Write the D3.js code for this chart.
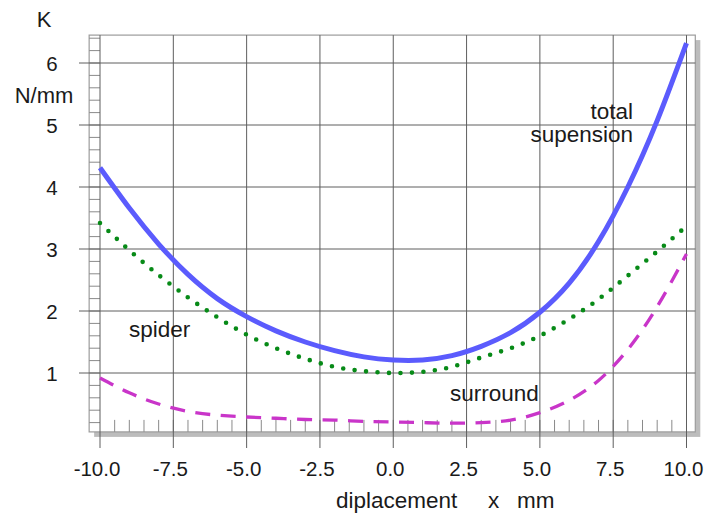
<!DOCTYPE html>
<html>
<head>
<meta charset="utf-8">
<script src="https://cdn.jsdelivr.net/npm/d3@7"></script>
<style>
body{margin:0;background:#fff;}
text{font-family:"Liberation Sans",Arial,sans-serif;fill:#1a1a1a;}
</style>
</head>
<body>
<svg id="c" width="711" height="515"></svg>
<script>
const xValues   = [-10,-9,-8,-7,-6,-5,-4,-3,-2,-1,0,1,2,3,4,5,6,7,8,9,10];
const totalK    = [4.31,3.66,3.08,2.59,2.20,1.91,1.68,1.50,1.36,1.26,1.21,1.21,1.28,1.43,1.65,1.98,2.45,3.12,4.00,5.07,6.32];
const spiderK   = [3.42,2.98,2.58,2.22,1.90,1.62,1.40,1.23,1.10,1.03,1.00,1.02,1.10,1.25,1.40,1.60,1.87,2.19,2.57,2.96,3.37];
const surroundK = [0.92,0.68,0.50,0.38,0.32,0.29,0.27,0.25,0.24,0.22,0.21,0.20,0.19,0.20,0.24,0.36,0.56,0.88,1.38,2.07,2.92];
const xTicks = [-10,-7.5,-5,-2.5,0,2.5,5,7.5,10];
const xTickLabels = ["-10.0","-7.5","-5.0","-2.5","0.0","2.5","5.0","7.5","10.0"];
const yTicks = [1,2,3,4,5,6];
const yTickLabels = ["1","2","3","4","5","6"];

const svg = d3.select("#c");
const x = d3.scaleLinear().domain([-10,10]).range([100,686.5]);
const y = d3.scaleLinear().domain([0,6]).range([435,63]);

const fL = x(-10.37), fR = x(10.3), fT = y(6.45), fB = y(0.05);

// frame shadow + frame
svg.append("rect").attr("x",fL+5).attr("y",fT+5).attr("width",fR-fL).attr("height",fB-fT).attr("fill","#bcbcbc");
svg.append("rect").attr("x",fL).attr("y",fT).attr("width",fR-fL).attr("height",fB-fT)
  .attr("fill","#fff").attr("stroke","#9c9c9c").attr("stroke-width",1.2);

// minor ticks left ladder (0.2 steps)
const yMinor = d3.range(0.2,6.41,0.2);
svg.append("g").selectAll("line").data(yMinor).join("line")
  .attr("x1",fL).attr("x2",x(-10)).attr("y1",d=>y(d)).attr("y2",d=>y(d))
  .attr("stroke","#8a8a8a").attr("stroke-width",1);
// minor ticks bottom (0.5 steps)
const xMinor = d3.range(-9.5,10,0.5);
svg.append("g").selectAll("line").data(xMinor).join("line")
  .attr("x1",d=>x(d)).attr("x2",d=>x(d)).attr("y1",fB).attr("y2",fB-12)
  .attr("stroke","#8a8a8a").attr("stroke-width",1);

// grid lines
svg.append("g").selectAll("line").data(xTicks).join("line")
  .attr("x1",d=>x(d)).attr("x2",d=>x(d)).attr("y1",fT).attr("y2",448)
  .attr("stroke","#5e5e5e").attr("stroke-width",1);
svg.append("g").selectAll("line").data(yTicks).join("line")
  .attr("x1",79).attr("x2",fR).attr("y1",d=>y(d)).attr("y2",d=>y(d))
  .attr("stroke","#5e5e5e").attr("stroke-width",1);

// tick labels
svg.append("g").selectAll("text").data(xTicks).join("text")
  .attr("x",d=>x(d)-3).attr("y",476).attr("text-anchor","middle")
  .attr("font-size","20.5px").text((d,i)=>xTickLabels[i]);
svg.append("g").selectAll("text").data(yTicks).join("text")
  .attr("x",52).attr("y",d=>y(d)+7.5).attr("text-anchor","middle")
  .attr("font-size","20.5px").text((d,i)=>yTickLabels[i]);

// axis labels
svg.append("text").attr("x",44).attr("y",27).attr("text-anchor","middle").attr("font-size","22px").text("K");
svg.append("text").attr("x",44).attr("y",103).attr("text-anchor","middle").attr("font-size","22px").text("N/mm");
svg.append("text").attr("x",336).attr("y",508).attr("font-size","22.5px").text("diplacement");
svg.append("text").attr("x",488).attr("y",508).attr("font-size","22.5px").text("x");
svg.append("text").attr("x",517).attr("y",508).attr("font-size","22.5px").text("mm");

// curves
const mk = vals => d3.line().x((d,i)=>x(xValues[i])).y(d=>y(d)).curve(d3.curveNatural)(vals);

svg.append("path").attr("d",mk(surroundK)).attr("fill","none")
  .attr("stroke","#c935c9").attr("stroke-width",3.3).attr("stroke-dasharray","15,10.5");
svg.append("path").attr("d",mk(spiderK)).attr("fill","none")
  .attr("stroke","#078a17").attr("stroke-width",4.6).attr("stroke-linecap","round").attr("stroke-dasharray","0,11.5");
svg.append("path").attr("d",mk(totalK)).attr("fill","none")
  .attr("stroke","#5b5bfd").attr("stroke-width",5);

// annotations
svg.append("text").attr("x",633).attr("y",119).attr("text-anchor","end").attr("font-size","22.5px").text("total");
svg.append("text").attr("x",633).attr("y",142).attr("text-anchor","end").attr("font-size","22.5px").text("supension");
svg.append("text").attr("x",129).attr("y",337).attr("font-size","22.5px").text("spider");
svg.append("text").attr("x",450).attr("y",401).attr("font-size","22.5px").text("surround");
</script>
</body>
</html>
